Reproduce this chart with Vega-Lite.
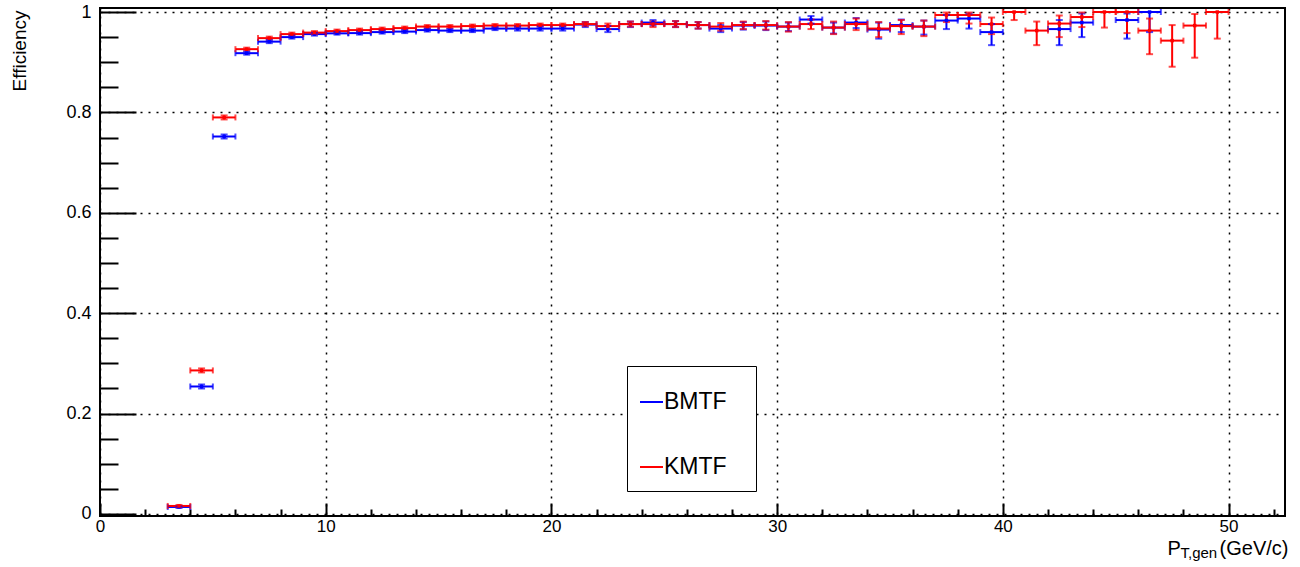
{
  "$schema": "https://vega.github.io/schema/vega-lite/v6.json",
  "width": 1185,
  "height": 508,
  "autosize": {"type": "none"},
  "padding": {"left": 100, "top": 8, "right": 15, "bottom": 51},
  "background": "white",
  "config": {
    "view": {"stroke": "black", "strokeWidth": 2},
    "font": "Liberation Sans",
    "axis": {"labelFont": "Liberation Sans", "titleFont": "Liberation Sans", "labelColor": "black", "titleColor": "black", "tickColor": "black", "domain": false, "titleFontWeight": "normal", "labelFlush": false}
  },
  "data": {"values": [
    {"s":"BMTF","x0":3,"x1":4,"xc":3.5,"e":0.014,"lo":0.012,"hi":0.016},
    {"s":"BMTF","x0":4,"x1":5,"xc":4.5,"e":0.254,"lo":0.250,"hi":0.258},
    {"s":"BMTF","x0":5,"x1":6,"xc":5.5,"e":0.752,"lo":0.748,"hi":0.756},
    {"s":"BMTF","x0":6,"x1":7,"xc":6.5,"e":0.918,"lo":0.915,"hi":0.921},
    {"s":"BMTF","x0":7,"x1":8,"xc":7.5,"e":0.941,"lo":0.938,"hi":0.944},
    {"s":"BMTF","x0":8,"x1":9,"xc":8.5,"e":0.950,"lo":0.947,"hi":0.953},
    {"s":"BMTF","x0":9,"x1":10,"xc":9.5,"e":0.956,"lo":0.953,"hi":0.959},
    {"s":"BMTF","x0":10,"x1":11,"xc":10.5,"e":0.9575,"lo":0.955,"hi":0.960},
    {"s":"BMTF","x0":11,"x1":12,"xc":11.5,"e":0.958,"lo":0.955,"hi":0.961},
    {"s":"BMTF","x0":12,"x1":13,"xc":12.5,"e":0.960,"lo":0.957,"hi":0.963},
    {"s":"BMTF","x0":13,"x1":14,"xc":13.5,"e":0.961,"lo":0.958,"hi":0.964},
    {"s":"BMTF","x0":14,"x1":15,"xc":14.5,"e":0.964,"lo":0.961,"hi":0.967},
    {"s":"BMTF","x0":15,"x1":16,"xc":15.5,"e":0.963,"lo":0.960,"hi":0.966},
    {"s":"BMTF","x0":16,"x1":17,"xc":16.5,"e":0.963,"lo":0.960,"hi":0.966},
    {"s":"BMTF","x0":17,"x1":18,"xc":17.5,"e":0.967,"lo":0.964,"hi":0.970},
    {"s":"BMTF","x0":18,"x1":19,"xc":18.5,"e":0.967,"lo":0.963,"hi":0.971},
    {"s":"BMTF","x0":19,"x1":20,"xc":19.5,"e":0.967,"lo":0.963,"hi":0.971},
    {"s":"BMTF","x0":20,"x1":21,"xc":20.5,"e":0.967,"lo":0.963,"hi":0.971},
    {"s":"BMTF","x0":21,"x1":22,"xc":21.5,"e":0.975,"lo":0.970,"hi":0.980},
    {"s":"BMTF","x0":22,"x1":23,"xc":22.5,"e":0.966,"lo":0.960,"hi":0.972},
    {"s":"BMTF","x0":23,"x1":24,"xc":23.5,"e":0.976,"lo":0.970,"hi":0.981},
    {"s":"BMTF","x0":24,"x1":25,"xc":24.5,"e":0.979,"lo":0.973,"hi":0.984},
    {"s":"BMTF","x0":25,"x1":26,"xc":25.5,"e":0.976,"lo":0.970,"hi":0.982},
    {"s":"BMTF","x0":26,"x1":27,"xc":26.5,"e":0.974,"lo":0.967,"hi":0.980},
    {"s":"BMTF","x0":27,"x1":28,"xc":27.5,"e":0.967,"lo":0.960,"hi":0.974},
    {"s":"BMTF","x0":28,"x1":29,"xc":28.5,"e":0.973,"lo":0.965,"hi":0.980},
    {"s":"BMTF","x0":29,"x1":30,"xc":29.5,"e":0.973,"lo":0.964,"hi":0.981},
    {"s":"BMTF","x0":30,"x1":31,"xc":30.5,"e":0.971,"lo":0.962,"hi":0.979},
    {"s":"BMTF","x0":31,"x1":32,"xc":31.5,"e":0.985,"lo":0.977,"hi":0.992},
    {"s":"BMTF","x0":32,"x1":33,"xc":32.5,"e":0.969,"lo":0.957,"hi":0.979},
    {"s":"BMTF","x0":33,"x1":34,"xc":33.5,"e":0.979,"lo":0.968,"hi":0.988},
    {"s":"BMTF","x0":34,"x1":35,"xc":34.5,"e":0.965,"lo":0.947,"hi":0.979},
    {"s":"BMTF","x0":35,"x1":36,"xc":35.5,"e":0.974,"lo":0.960,"hi":0.985},
    {"s":"BMTF","x0":36,"x1":37,"xc":36.5,"e":0.971,"lo":0.955,"hi":0.983},
    {"s":"BMTF","x0":37,"x1":38,"xc":37.5,"e":0.983,"lo":0.966,"hi":0.994},
    {"s":"BMTF","x0":38,"x1":39,"xc":38.5,"e":0.987,"lo":0.967,"hi":0.997},
    {"s":"BMTF","x0":39,"x1":40,"xc":39.5,"e":0.960,"lo":0.934,"hi":0.976},
    {"s":"BMTF","x0":42,"x1":43,"xc":42.5,"e":0.966,"lo":0.934,"hi":0.984},
    {"s":"BMTF","x0":43,"x1":44,"xc":43.5,"e":0.979,"lo":0.950,"hi":0.997},
    {"s":"BMTF","x0":45,"x1":46,"xc":45.5,"e":0.984,"lo":0.947,"hi":0.997},
    {"s":"BMTF","x0":46,"x1":47,"xc":46.5,"e":1.0,"lo":0.960,"hi":1.0},
    {"s":"KMTF","x0":3,"x1":4,"xc":3.5,"e":0.016,"lo":0.014,"hi":0.018},
    {"s":"KMTF","x0":4,"x1":5,"xc":4.5,"e":0.286,"lo":0.282,"hi":0.290},
    {"s":"KMTF","x0":5,"x1":6,"xc":5.5,"e":0.790,"lo":0.786,"hi":0.794},
    {"s":"KMTF","x0":6,"x1":7,"xc":6.5,"e":0.926,"lo":0.923,"hi":0.929},
    {"s":"KMTF","x0":7,"x1":8,"xc":7.5,"e":0.948,"lo":0.945,"hi":0.951},
    {"s":"KMTF","x0":8,"x1":9,"xc":8.5,"e":0.956,"lo":0.953,"hi":0.959},
    {"s":"KMTF","x0":9,"x1":10,"xc":9.5,"e":0.959,"lo":0.956,"hi":0.962},
    {"s":"KMTF","x0":10,"x1":11,"xc":10.5,"e":0.962,"lo":0.959,"hi":0.965},
    {"s":"KMTF","x0":11,"x1":12,"xc":11.5,"e":0.964,"lo":0.961,"hi":0.967},
    {"s":"KMTF","x0":12,"x1":13,"xc":12.5,"e":0.966,"lo":0.963,"hi":0.969},
    {"s":"KMTF","x0":13,"x1":14,"xc":13.5,"e":0.968,"lo":0.965,"hi":0.971},
    {"s":"KMTF","x0":14,"x1":15,"xc":14.5,"e":0.971,"lo":0.968,"hi":0.974},
    {"s":"KMTF","x0":15,"x1":16,"xc":15.5,"e":0.971,"lo":0.968,"hi":0.974},
    {"s":"KMTF","x0":16,"x1":17,"xc":16.5,"e":0.972,"lo":0.969,"hi":0.975},
    {"s":"KMTF","x0":17,"x1":18,"xc":17.5,"e":0.973,"lo":0.970,"hi":0.976},
    {"s":"KMTF","x0":18,"x1":19,"xc":18.5,"e":0.973,"lo":0.970,"hi":0.976},
    {"s":"KMTF","x0":19,"x1":20,"xc":19.5,"e":0.974,"lo":0.971,"hi":0.977},
    {"s":"KMTF","x0":20,"x1":21,"xc":20.5,"e":0.974,"lo":0.971,"hi":0.977},
    {"s":"KMTF","x0":21,"x1":22,"xc":21.5,"e":0.976,"lo":0.972,"hi":0.980},
    {"s":"KMTF","x0":22,"x1":23,"xc":22.5,"e":0.972,"lo":0.966,"hi":0.977},
    {"s":"KMTF","x0":23,"x1":24,"xc":23.5,"e":0.976,"lo":0.971,"hi":0.981},
    {"s":"KMTF","x0":24,"x1":25,"xc":24.5,"e":0.976,"lo":0.970,"hi":0.981},
    {"s":"KMTF","x0":25,"x1":26,"xc":25.5,"e":0.976,"lo":0.970,"hi":0.982},
    {"s":"KMTF","x0":26,"x1":27,"xc":26.5,"e":0.974,"lo":0.967,"hi":0.980},
    {"s":"KMTF","x0":27,"x1":28,"xc":27.5,"e":0.971,"lo":0.963,"hi":0.978},
    {"s":"KMTF","x0":28,"x1":29,"xc":28.5,"e":0.974,"lo":0.966,"hi":0.981},
    {"s":"KMTF","x0":29,"x1":30,"xc":29.5,"e":0.974,"lo":0.965,"hi":0.982},
    {"s":"KMTF","x0":30,"x1":31,"xc":30.5,"e":0.971,"lo":0.961,"hi":0.980},
    {"s":"KMTF","x0":31,"x1":32,"xc":31.5,"e":0.976,"lo":0.966,"hi":0.985},
    {"s":"KMTF","x0":32,"x1":33,"xc":32.5,"e":0.969,"lo":0.956,"hi":0.981},
    {"s":"KMTF","x0":33,"x1":34,"xc":33.5,"e":0.976,"lo":0.964,"hi":0.987},
    {"s":"KMTF","x0":34,"x1":35,"xc":34.5,"e":0.967,"lo":0.950,"hi":0.980},
    {"s":"KMTF","x0":35,"x1":36,"xc":35.5,"e":0.972,"lo":0.956,"hi":0.984},
    {"s":"KMTF","x0":36,"x1":37,"xc":36.5,"e":0.971,"lo":0.952,"hi":0.983},
    {"s":"KMTF","x0":37,"x1":38,"xc":37.5,"e":0.994,"lo":0.980,"hi":0.999},
    {"s":"KMTF","x0":38,"x1":39,"xc":38.5,"e":0.994,"lo":0.977,"hi":0.999},
    {"s":"KMTF","x0":39,"x1":40,"xc":39.5,"e":0.976,"lo":0.956,"hi":0.989},
    {"s":"KMTF","x0":40,"x1":41,"xc":40.5,"e":1.0,"lo":0.984,"hi":1.0},
    {"s":"KMTF","x0":41,"x1":42,"xc":41.5,"e":0.963,"lo":0.934,"hi":0.981},
    {"s":"KMTF","x0":42,"x1":43,"xc":42.5,"e":0.977,"lo":0.950,"hi":0.993},
    {"s":"KMTF","x0":43,"x1":44,"xc":43.5,"e":0.990,"lo":0.970,"hi":0.999},
    {"s":"KMTF","x0":44,"x1":45,"xc":44.5,"e":1.0,"lo":0.969,"hi":1.0},
    {"s":"KMTF","x0":45,"x1":46,"xc":45.5,"e":1.0,"lo":0.958,"hi":1.0},
    {"s":"KMTF","x0":46,"x1":47,"xc":46.5,"e":0.963,"lo":0.916,"hi":0.987},
    {"s":"KMTF","x0":47,"x1":48,"xc":47.5,"e":0.943,"lo":0.891,"hi":0.974},
    {"s":"KMTF","x0":48,"x1":49,"xc":48.5,"e":0.973,"lo":0.909,"hi":0.996},
    {"s":"KMTF","x0":49,"x1":50,"xc":49.5,"e":1.0,"lo":0.947,"hi":1.0}
  ]},
  "layer": [
    {
      "mark": {"type": "rule", "strokeWidth": 2},
      "encoding": {
        "x": {"field": "x0", "type": "quantitative", "scale": {"domain": [0, 52.5], "nice": false, "zero": false},
          "axis": {"orient": "bottom", "values": [0,10,20,30,40,50], "labelExpr": "datum.value + ''", "tickSize": -13, "tickWidth": 2, "labelFontSize": 17, "labelPadding": 15, "grid": true, "gridColor": "black", "gridDash": [2,6], "gridWidth": 1.5, "title": "P", "titleFontSize": 20, "titleX": 1067, "titleY": 38, "titleAlign": "left", "titleBaseline": "alphabetic"}},
        "x2": {"field": "x1"},
        "y": {"field": "e", "type": "quantitative", "scale": {"domain": [-0.004, 1.008], "nice": false, "zero": false},
          "axis": {"orient": "left", "values": [0,0.2,0.4,0.6,0.8,1], "labelExpr": "datum.value + ''", "tickSize": -36, "tickWidth": 2, "labelFontSize": 18, "labelPadding": 45, "grid": true, "gridColor": "black", "gridDash": [2,6], "gridWidth": 1.5, "title": "Efficiency", "titleFontSize": 19, "titleAngle": -90, "titleX": -75, "titleY": 2, "titleAlign": "right", "titleBaseline": "alphabetic"}},
        "color": {"field": "s", "type": "nominal", "scale": {"domain": ["BMTF","KMTF"], "range": ["#0000ff","#ff0000"]},
          "legend": {"orient": "none", "legendX": 527, "legendY": 358, "title": null, "strokeColor": "black", "fillColor": "white", "padding": 12, "symbolType": "M-1,0H0", "symbolSize": 2116, "symbolStrokeWidth": 2, "labelOffset": -23, "labelFontSize": 23, "labelFont": "Liberation Sans", "labelColor": "black", "rowPadding": 29, "labelExpr": "datum.label + '\u2800'"}}
      }
    },
    {
      "mark": {"type": "rule", "strokeWidth": 2},
      "encoding": {
        "x": {"field": "xc", "type": "quantitative",
          "axis": {"orient": "bottom", "values": [2,4,6,8,12,14,16,18,22,24,26,28,32,34,36,38,42,44,46,48,52], "tickSize": -7, "tickWidth": 2, "labels": false, "grid": false, "title": "T,gen", "titleFontSize": 15, "titleX": 1080, "titleY": 41, "titleAlign": "left", "titleBaseline": "alphabetic"}},
        "y": {"field": "lo", "type": "quantitative",
          "axis": {"orient": "left", "values": [0.05,0.1,0.15,0.25,0.3,0.35,0.45,0.5,0.55,0.65,0.7,0.75,0.85,0.9,0.95], "tickSize": -18, "tickWidth": 2, "labels": false, "grid": false, "title": null}},
        "y2": {"field": "hi"},
        "color": {"field": "s", "type": "nominal", "legend": null}
      }
    },
    {
      "mark": {"type": "tick", "orient": "vertical", "size": 6, "thickness": 2},
      "encoding": {
        "x": {"field": "x0", "type": "quantitative",
          "axis": {"orient": "bottom", "ticks": false, "labels": false, "grid": false, "title": "(GeV/c)", "titleFontSize": 20, "titleX": 1188, "titleY": 38, "titleAlign": "right", "titleBaseline": "alphabetic"}},
        "y": {"field": "e", "type": "quantitative", "axis": null},
        "color": {"field": "s", "type": "nominal", "legend": null}
      }
    },
    {
      "mark": {"type": "tick", "orient": "vertical", "size": 6, "thickness": 2},
      "encoding": {
        "x": {"field": "x1", "type": "quantitative", "axis": null},
        "y": {"field": "e", "type": "quantitative", "axis": null},
        "color": {"field": "s", "type": "nominal", "legend": null}
      }
    },
    {
      "mark": {"type": "tick", "orient": "horizontal", "size": 7, "thickness": 2},
      "encoding": {
        "x": {"field": "xc", "type": "quantitative", "axis": null},
        "y": {"field": "lo", "type": "quantitative", "axis": null},
        "color": {"field": "s", "type": "nominal", "legend": null}
      }
    },
    {
      "mark": {"type": "tick", "orient": "horizontal", "size": 7, "thickness": 2},
      "encoding": {
        "x": {"field": "xc", "type": "quantitative", "axis": null},
        "y": {"field": "hi", "type": "quantitative", "axis": null},
        "color": {"field": "s", "type": "nominal", "legend": null}
      }
    },
    {
      "mark": {"type": "point", "shape": "square", "filled": true, "size": 12, "opacity": 1},
      "encoding": {
        "x": {"field": "xc", "type": "quantitative", "axis": null},
        "y": {"field": "e", "type": "quantitative", "axis": null},
        "color": {"field": "s", "type": "nominal", "legend": null}
      }
    }
  ],
  "resolve": {"axis": {"x": "independent", "y": "independent"}, "legend": {"color": "independent"}}
}
